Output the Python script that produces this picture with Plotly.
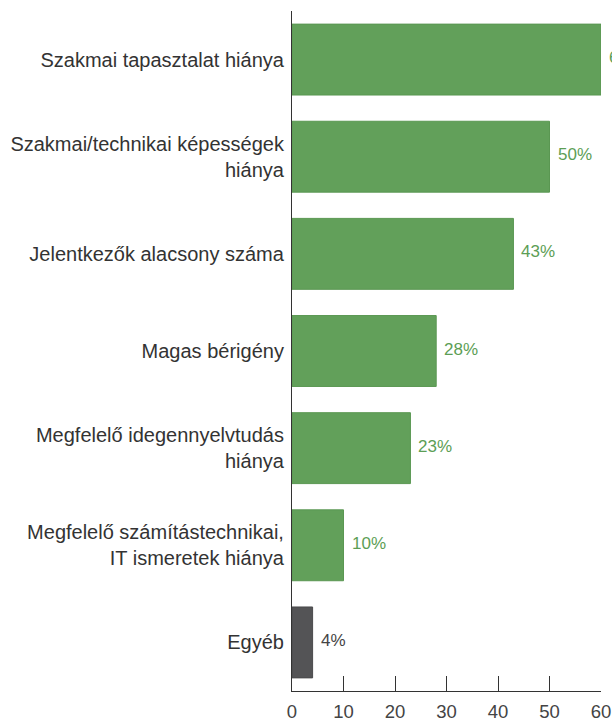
import plotly.graph_objects as go

categories = [
    "Szakmai tapasztalat hiánya",
    "Szakmai/technikai képességek<br>hiánya",
    "Jelentkezők alacsony száma",
    "Magas bérigény",
    "Megfelelő idegennyelvtudás<br>hiánya",
    "Megfelelő számítástechnikai,<br>IT ismeretek hiánya",
    "Egyéb",
]
values = [60, 50, 43, 28, 23, 10, 4]
value_labels = ["60%", "50%", "43%", "28%", "23%", "10%", "4%"]
tick_vals = [0, 10, 20, 30, 40, 50, 60]

GREEN = "#62a05a"
GREEN_EDGE = "#5a9752"
GREEN_TEXT = "#5c9e55"
DARK = "#545456"
DARK_TEXT = "#444444"

bar_colors = [GREEN] * 6 + [DARK]
edge_colors = [GREEN_EDGE] * 6 + ["#4a4a4c"]
text_colors = [GREEN_TEXT] * 6 + [DARK_TEXT]

fig = go.Figure()
fig.add_trace(go.Bar(
    x=values,
    y=categories,
    orientation="h",
    marker=dict(color=bar_colors, line=dict(color=edge_colors, width=1)),
    hoverinfo="skip",
))

for cat, v, lab, col in zip(categories, values, value_labels, text_colors):
    fig.add_annotation(
        x=v, y=cat, text=lab, showarrow=False,
        xanchor="left", yanchor="middle", xshift=6, yshift=2,
        font=dict(family="Liberation Sans, Arial, sans-serif", size=17, color=col),
    )

fig.update_layout(
    width=612, height=722,
    margin=dict(l=292, r=11, t=11, b=31),
    paper_bgcolor="white", plot_bgcolor="white",
    bargap=0.27,
    showlegend=False,
    font=dict(family="Liberation Sans, Arial, sans-serif", color="#333333"),
)
fig.update_xaxes(
    range=[0, 60], tickvals=tick_vals, ticktext=[str(t) for t in tick_vals],
    showgrid=False, zeroline=False, automargin=False,
    showline=True, linecolor="#333333", linewidth=1.2,
    ticks="inside", ticklen=15, tickcolor="#333333", tickwidth=1.2,
    tickfont=dict(size=18.5, color="#444444"),
    ticklabelstandoff=4,
    fixedrange=True,
)
fig.update_yaxes(
    categoryorder="array", categoryarray=categories, autorange="reversed",
    showgrid=False, zeroline=False, automargin=False,
    showline=True, linecolor="#333333", linewidth=1.2,
    ticks="", tickfont=dict(size=20, color="#333333"),
    ticklabelstandoff=3,
    fixedrange=True,
)

fig.write_html(
    "out.html",
    config={"displayModeBar": False},
    post_script="document.body.style.margin='0';document.body.style.overflow='hidden';",
)
